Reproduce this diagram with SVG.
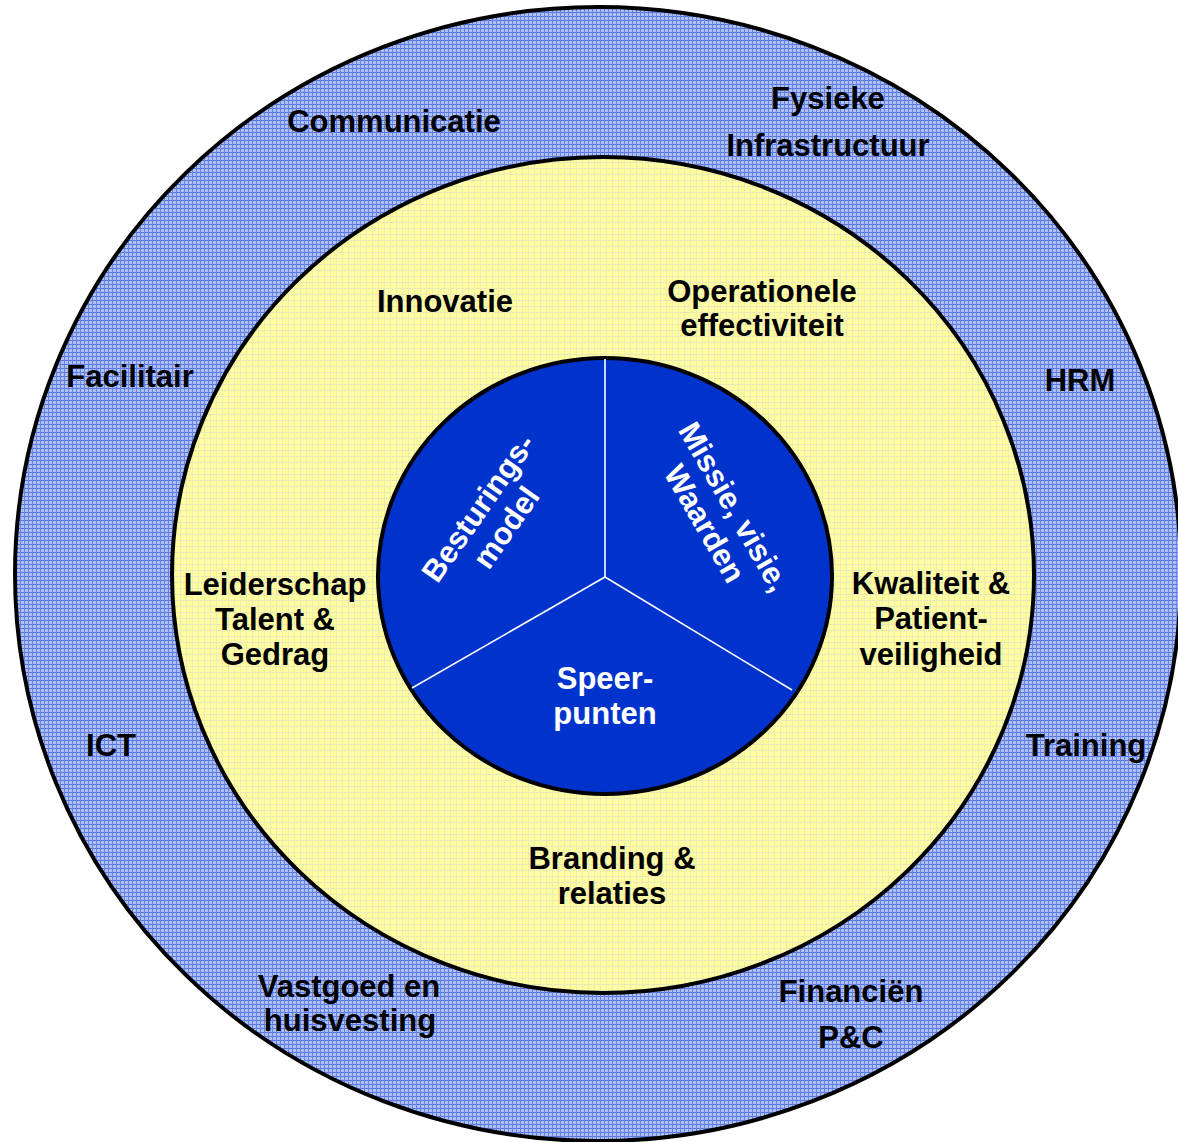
<svg xmlns="http://www.w3.org/2000/svg" width="1178" height="1142" viewBox="0 0 1178 1142">
<style>
.lbl{font-family:"Liberation Sans",Arial,sans-serif;font-weight:bold;font-size:31px;fill:#000;text-anchor:middle}
.wl{font-family:"Liberation Sans",Arial,sans-serif;font-weight:bold;font-size:31px;fill:#fff;text-anchor:middle}
</style>
<defs>
<pattern id="pb" width="4" height="4" patternUnits="userSpaceOnUse">
<rect width="4" height="4" fill="#b0c0f3"/>
<rect width="4" height="1" fill="#5575e0"/>
<rect width="1" height="4" fill="#6582e5"/>
</pattern>
<pattern id="py" width="6" height="6" patternUnits="userSpaceOnUse">
<rect width="6" height="6" fill="#ffff9e"/>
<rect width="6" height="1" fill="#e8e8b8"/>
<rect width="1" height="6" fill="#eaeabc"/>
</pattern>
</defs>
<g id="rings">
<ellipse id="outer" cx="598" cy="574" rx="583" ry="567" fill="url(#pb)" stroke="#000" stroke-width="4"/>
<ellipse id="middle" cx="603" cy="575" rx="431" ry="418" fill="url(#py)" stroke="#000" stroke-width="4"/>
<ellipse id="core" cx="605" cy="576" rx="227" ry="218" fill="#0033cc" stroke="#000" stroke-width="4"/>
</g>
<g id="dividers" stroke="#fff" stroke-width="1.6" fill="none">
<line x1="605" y1="577" x2="605" y2="359"/>
<line x1="605" y1="577" x2="412" y2="688"/>
<line x1="605" y1="577" x2="792" y2="690"/>
</g>
<g id="n-besturingsmodel" transform="translate(487,514) rotate(-55)">
<text class="wl" x="0" y="0">Besturings-</text>
<text class="wl" x="0" y="34">model</text>
</g>
<g id="n-missie" transform="translate(725,512) rotate(60)">
<text class="wl" x="0" y="0">Missie, visie,</text>
<text class="wl" x="0" y="34">Waarden</text>
</g>
<g id="n-speerpunten">
<text class="wl" x="605" y="689">Speer-</text>
<text class="wl" x="605" y="724">punten</text>
</g>
<g id="n-innovatie"><text class="lbl" x="445" y="312">Innovatie</text></g>
<g id="n-operationele">
<text class="lbl" x="762" y="302">Operationele</text>
<text class="lbl" x="762" y="336">effectiviteit</text>
</g>
<g id="n-leiderschap">
<text class="lbl" x="275" y="595">Leiderschap</text>
<text class="lbl" x="275" y="630">Talent &amp;</text>
<text class="lbl" x="275" y="665">Gedrag</text>
</g>
<g id="n-kwaliteit">
<text class="lbl" x="931" y="594">Kwaliteit &amp;</text>
<text class="lbl" x="931" y="629">Patient-</text>
<text class="lbl" x="931" y="665">veiligheid</text>
</g>
<g id="n-branding">
<text class="lbl" x="612" y="869">Branding &amp;</text>
<text class="lbl" x="612" y="904">relaties</text>
</g>
<g id="n-communicatie"><text class="lbl" x="394" y="132">Communicatie</text></g>
<g id="n-fysieke">
<text class="lbl" x="828" y="109">Fysieke</text>
<text class="lbl" x="828" y="156">Infrastructuur</text>
</g>
<g id="n-facilitair"><text class="lbl" x="130" y="387">Facilitair</text></g>
<g id="n-hrm"><text class="lbl" x="1080" y="391">HRM</text></g>
<g id="n-ict"><text class="lbl" x="111" y="756">ICT</text></g>
<g id="n-training"><text class="lbl" x="1086" y="756">Training</text></g>
<g id="n-vastgoed">
<text class="lbl" x="349" y="997">Vastgoed en</text>
<text class="lbl" x="350" y="1031">huisvesting</text>
</g>
<g id="n-financien">
<text class="lbl" x="851" y="1002">Financiën</text>
<text class="lbl" x="851" y="1048">P&amp;C</text>
</g>
</svg>
